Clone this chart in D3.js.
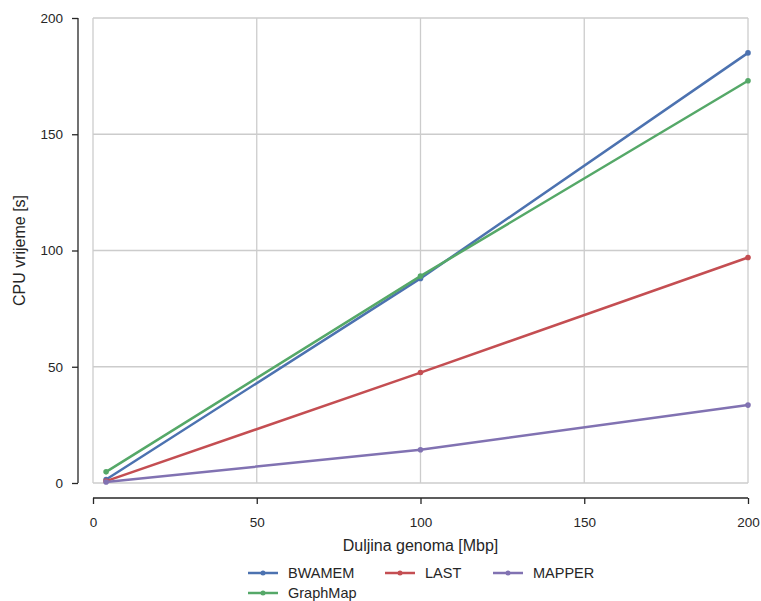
<!DOCTYPE html>
<html>
<head>
<meta charset="utf-8">
<script src="https://cdn.jsdelivr.net/npm/d3@7"></script>
<style>
  body { margin: 0; background: white; }
  text { font-family: "Liberation Sans", Arial, sans-serif; }
</style>
</head>
<body>
<div id="chart"></div>
<script>
var width = 761,
    height = 601;

// data
var genomeLengths = [4, 100, 200];
var seriesNames = ["BWAMEM", "GraphMap", "LAST", "MAPPER"];
var bwamem = [1.5, 88, 185];
var graphmap = [4.8, 89, 173];
var last = [0.8, 47.5, 97];
var mapper = [0.4, 14.3, 33.5];
var xTicks = [0, 50, 100, 150, 200];
var yTicks = [0, 50, 100, 150, 200];

var colors = {
  "BWAMEM": "#4c72b0",
  "GraphMap": "#55a868",
  "LAST": "#c44e52",
  "MAPPER": "#8172b2"
};

var series = [
  { name: "BWAMEM", values: bwamem },
  { name: "GraphMap", values: graphmap },
  { name: "LAST", values: last },
  { name: "MAPPER", values: mapper }
];

var svg = d3.select("#chart").append("svg")
    .attr("width", width)
    .attr("height", height);

var pLeft = 93, pRight = 748, pTop = 18, pBottom = 483;

var x = d3.scaleLinear().domain([0, 200]).range([pLeft, pRight]);
var y = d3.scaleLinear().domain([0, 200]).range([pBottom, pTop]);

// grid
var grid = svg.append("g");
grid.selectAll("line.gx")
    .data(xTicks)
    .enter().append("line")
    .attr("x1", function(d) { return x(d); })
    .attr("x2", function(d) { return x(d); })
    .attr("y1", pTop)
    .attr("y2", pBottom)
    .attr("stroke", "#cccccc")
    .attr("stroke-width", 1.3);
grid.selectAll("line.gy")
    .data(yTicks)
    .enter().append("line")
    .attr("x1", pLeft)
    .attr("x2", pRight)
    .attr("y1", function(d) { return y(d); })
    .attr("y2", function(d) { return y(d); })
    .attr("stroke", "#cccccc")
    .attr("stroke-width", 1.3);

// offset spines
var yAxis = d3.axisLeft(y).tickValues(yTicks).tickSize(6).tickPadding(9);
var yg = svg.append("g")
    .attr("transform", "translate(78,0)")
    .call(yAxis);

var xAxis = d3.axisBottom(x).tickValues(xTicks).tickSize(6).tickPadding(13);
var xg = svg.append("g")
    .attr("transform", "translate(0,498)")
    .call(xAxis);

[yg, xg].forEach(function(g) {
  g.select(".domain").attr("stroke", "#262626").attr("stroke-width", 1.3);
  g.selectAll(".tick line").attr("stroke", "#262626").attr("stroke-width", 1.3);
  g.selectAll(".tick text")
    .attr("fill", "#262626")
    .style("font-size", "13.5px")
    .style("font-family", "Liberation Sans, Arial, sans-serif");
});
// remove the outer tick ends on the domain path
yg.select(".domain").attr("d", "M0," + pTop + "V" + pBottom);
xg.select(".domain").attr("d", "M" + pLeft + ",0H" + pRight);

// axis labels
svg.append("text")
    .attr("x", (pLeft + pRight) / 2)
    .attr("y", 551)
    .attr("text-anchor", "middle")
    .style("font-size", "16px")
    .attr("fill", "#262626")
    .text("Duljina genoma [Mbp]");

svg.append("text")
    .attr("transform", "translate(25," + ((pTop + pBottom) / 2) + ") rotate(-90)")
    .attr("text-anchor", "middle")
    .style("font-size", "16px")
    .attr("fill", "#262626")
    .text("CPU vrijeme [s]");

// lines
var line = d3.line()
    .x(function(d, i) { return x(genomeLengths[i]); })
    .y(function(d) { return y(d); });

var plot = svg.append("g");
series.forEach(function(s) {
  plot.append("path")
      .datum(s.values)
      .attr("d", line)
      .attr("fill", "none")
      .attr("stroke", colors[s.name])
      .attr("stroke-width", 2.5);
  plot.selectAll(null)
      .data(s.values)
      .enter().append("circle")
      .attr("cx", function(d, i) { return x(genomeLengths[i]); })
      .attr("cy", function(d) { return y(d); })
      .attr("r", 2.8)
      .attr("fill", colors[s.name]);
});

// legend
var legendItems = [
  { name: "BWAMEM", lx: 248, ly: 573 },
  { name: "LAST", lx: 385, ly: 573 },
  { name: "MAPPER", lx: 493, ly: 573 },
  { name: "GraphMap", lx: 248, ly: 593 }
];
var legend = svg.append("g");
legendItems.forEach(function(it) {
  var g = legend.append("g").attr("transform", "translate(" + it.lx + "," + it.ly + ")");
  g.append("line")
      .attr("x1", 0).attr("x2", 30)
      .attr("y1", 0).attr("y2", 0)
      .attr("stroke", colors[it.name])
      .attr("stroke-width", 2.5);
  g.append("circle")
      .attr("cx", 15).attr("cy", 0).attr("r", 2.5)
      .attr("fill", colors[it.name]);
  g.append("text")
      .attr("x", 40).attr("y", 5)
      .style("font-size", "14.5px")
      .attr("fill", "#262626")
      .text(it.name);
});
</script>
</body>
</html>
